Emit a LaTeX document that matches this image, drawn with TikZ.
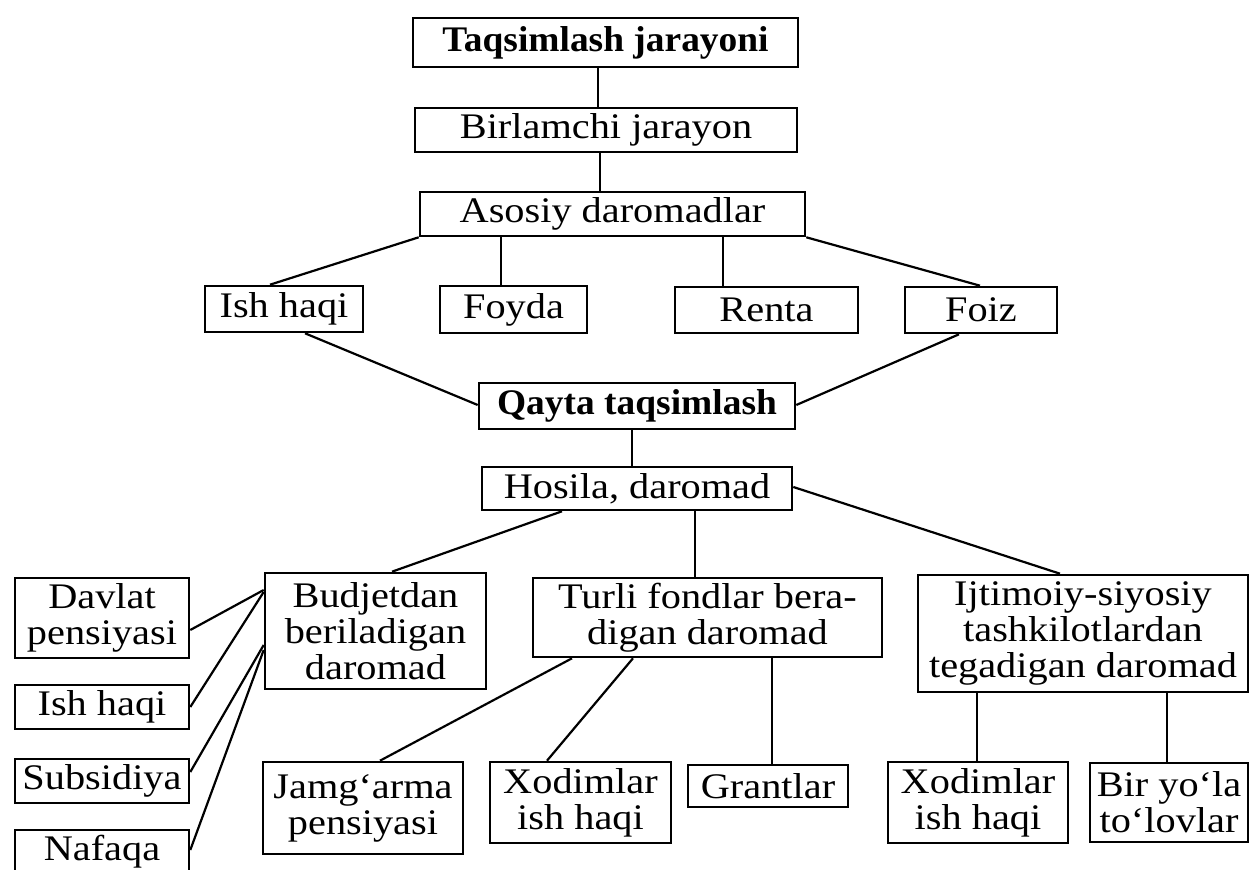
\documentclass[tikz,border=0pt]{standalone}
\usepackage{fontspec}
\setmainfont{Liberation Serif}[FakeStretch=1.12,BoldFeatures={FakeStretch=1.04}]
\begin{document}
\begin{tikzpicture}[x=0.5pt,y=-0.5pt,
  box/.style={draw, line width=1.3pt, inner sep=0pt, align=center,
              font=\fontsize{18}{18}\selectfont},
  corners/.style n args={4}{minimum width={(#3-#1)*0.5pt},
              minimum height={(#4-#2)*0.5pt},
              at={({(#1+#3)/2},{(#2+#4)/2})}},
  conn/.style={line width=1.1pt}]
\clip (0,0) rectangle (1249,870);
\fill[white] (0,0) rectangle (1249,870);

% top chain
\node[box, corners={413}{18}{798}{67}] (taq) {\textbf{Taqsimlash jarayoni}};
\node[box, corners={415}{108}{797}{152}] (bir) {Birlamchi jarayon};
\node[box, corners={420}{192}{805}{236}] (aso) {Asosiy daromadlar};

% primary incomes
\node[box, corners={205}{286}{363}{332}] (ish1) {Ish haqi};
\node[box, corners={440}{286}{587}{333}] (foy) {Foyda};
\node[box, corners={675}{287}{858}{333}] (ren) {Renta};
\node[box, corners={905}{287}{1057}{333}] (foiz) {Foiz};

% redistribution
\node[box, corners={479}{383}{795}{429}] (qay) {\textbf{Qayta taqsimlash}};
\node[box, corners={482}{467}{792}{510}] (hos) {Hosila, daromad};

% derived incomes
\node[box, corners={265}{573}{486}{689}] (bud) {Budjetdan\\beriladigan\\daromad};
\node[box, corners={533}{578}{882}{657}] (tur) {Turli fondlar bera-\\digan daromad};
\node[box, corners={918}{575}{1248}{692}] (ijt) {Ijtimoiy-siyosiy\\tashkilotlardan\\tegadigan daromad};

% left column
\node[box, corners={15}{578}{189}{658}] (dav) {Davlat\\pensiyasi};
\node[box, corners={15}{685}{189}{729}] (ish2) {Ish haqi};
\node[box, corners={15}{759}{189}{803}] (sub) {Subsidiya};
\node[box, corners={15}{830}{189}{874}] (naf) {Nafaqa};

% bottom row
\node[box, corners={263}{762}{463}{854}] (jam) {Jamg‘arma\\pensiyasi};
\node[box, corners={490}{762}{671}{843}] (xod1) {Xodimlar\\ish haqi};
\node[box, corners={688}{765}{848}{807}] (gra) {Grantlar};
\node[box, corners={888}{762}{1068}{843}] (xod2) {Xodimlar\\ish haqi};
\node[box, corners={1090}{763}{1248}{842}] (bir2) {Bir yo‘la\\to‘lovlar};

% connectors
\draw[conn] (taq.south -| 598,0) -- (bir.north -| 598,0);
\draw[conn] (bir.south -| 600,0) -- (aso.north -| 600,0);
\draw[conn] (aso.south west) -- (ish1.north -| 270,0);
\draw[conn] (aso.south -| 501,0) -- (foy.north -| 501,0);
\draw[conn] (aso.south -| 723,0) -- (ren.north -| 723,0);
\draw[conn] (aso.south east) -- (foiz.north -| 980,0);
\draw[conn] (ish1.south -| 305,0) -- (qay.west |- 0,405);
\draw[conn] (foiz.south -| 959,0) -- (qay.east |- 0,405);
\draw[conn] (qay.south -| 632,0) -- (hos.north -| 632,0);
\draw[conn] (hos.south -| 562,0) -- (bud.north -| 392,0);
\draw[conn] (hos.south -| 695,0) -- (tur.north -| 695,0);
\draw[conn] (hos.east |- 0,487) -- (ijt.north -| 1060,0);
\draw[conn] (tur.south -| 572,0) -- (jam.north -| 380,0);
\draw[conn] (tur.south -| 633,0) -- (xod1.north -| 547,0);
\draw[conn] (tur.south -| 772,0) -- (gra.north -| 772,0);
\draw[conn] (ijt.south -| 977,0) -- (xod2.north -| 977,0);
\draw[conn] (ijt.south -| 1167,0) -- (bir2.north -| 1167,0);
\draw[conn] (dav.east |- 0,630) -- (bud.west |- 0,590);
\draw[conn] (ish2.east |- 0,707) -- (bud.west |- 0,592);
\draw[conn] (sub.east |- 0,772) -- (bud.west |- 0,645);
\draw[conn] (naf.east |- 0,850) -- (bud.west |- 0,650);
\end{tikzpicture}
\end{document}
